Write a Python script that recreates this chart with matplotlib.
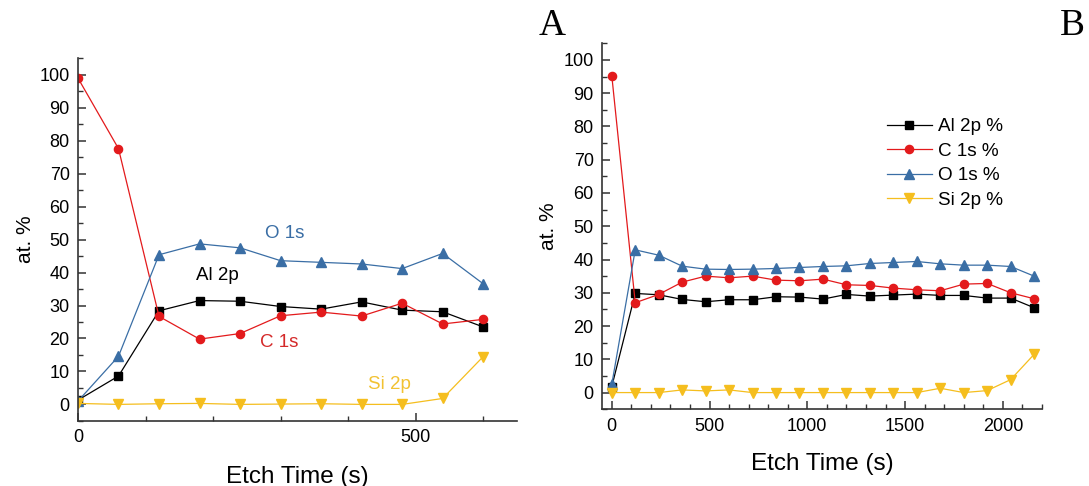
import numpy as np
import matplotlib
matplotlib.use("Agg")
import matplotlib.pyplot as plt
from matplotlib.ticker import MultipleLocator, FixedLocator

plt.rcParams['font.family'] = ['Liberation Sans', 'DejaVu Sans']

# panel A: etch time every 60 s
time_a = [0, 60, 120, 180, 240, 300, 360, 420, 480, 540, 600]
al_a = [1.3, 8.6, 28.4, 31.5, 31.3, 29.7, 28.9, 31.1, 28.6, 28.1, 23.5]
c_a = [99.0, 77.6, 26.7, 19.8, 21.5, 26.9, 28.0, 26.8, 30.7, 24.4, 25.8]
o_a = [1.0, 14.6, 45.4, 48.7, 47.5, 43.6, 43.1, 42.6, 41.2, 45.8, 36.6]
si_a = [0.3, 0.0, 0.2, 0.3, 0.0, 0.1, 0.2, 0.0, 0.0, 1.8, 14.5]

# panel B: etch time every 120 s
time_b = [0, 120, 240, 360, 480, 600, 720, 840, 960, 1080, 1200, 1320,
          1440, 1560, 1680, 1800, 1920, 2040, 2160]
al_b = [1.8, 29.8, 29.4, 28.0, 27.3, 27.9, 27.9, 28.8, 28.7, 28.1, 29.5,
        29.0, 29.3, 29.6, 29.2, 29.2, 28.4, 28.4, 25.5]
c_b = [95.3, 27.0, 29.5, 33.2, 35.0, 34.5, 35.0, 33.8, 33.6, 34.1, 32.4,
       32.2, 31.4, 30.9, 30.6, 32.6, 32.8, 30.0, 28.2]
o_b = [2.5, 42.9, 41.3, 38.0, 37.1, 37.0, 37.1, 37.3, 37.6, 37.9, 38.1,
       38.8, 39.1, 39.4, 38.7, 38.3, 38.3, 37.9, 35.0]
si_b = [0.0, 0.0, 0.0, 0.8, 0.5, 0.8, 0.0, 0.0, 0.0, 0.0, 0.0, 0.0,
        0.0, 0.0, 1.3, 0.0, 0.6, 3.9, 11.5]

names = ['Al 2p', 'C 1s', 'O 1s', 'Si 2p']
colors = ['black', '#e31a1c', '#3a6ea5', '#f5be1e']
markers = ['s', 'o', '^', 'v']
msizes = [5.3, 5.9, 6.6, 6.6]

fig = plt.figure(figsize=(10.89, 4.86), dpi=100)
ax1 = fig.add_axes([0.0716, 0.134, 0.4031, 0.746])
ax2 = fig.add_axes([0.5528, 0.158, 0.404, 0.753])


def style_axis(ax):
    for s in ['top', 'right']:
        ax.spines[s].set_visible(False)
    for s in ['left', 'bottom']:
        ax.spines[s].set_linewidth(1.2)
        ax.spines[s].set_color('#333333')
    ax.set_ylim(-5, 105)
    ax.yaxis.set_major_locator(MultipleLocator(10))
    ax.yaxis.set_minor_locator(MultipleLocator(5))
    ax.tick_params(which='both', direction='in', labelsize=13, pad=6, color='#333333')
    ax.tick_params(which='major', length=6, width=1.1)
    ax.tick_params(which='minor', length=3.5, width=1.0)
    ax.set_xlabel('Etch Time (s)', fontsize=17.5)
    ax.set_ylabel('at. %', fontsize=15)


series_a = [al_a, c_a, o_a, si_a]
for y, col, m, ms in zip(series_a, colors, markers, msizes):
    ax1.plot(time_a, y, color=col, marker=m, markersize=ms, linewidth=0.9)
style_axis(ax1)
ax1.set_xlim(0, 650)
ax1.xaxis.set_major_locator(FixedLocator([0, 500]))
ax1.xaxis.set_minor_locator(MultipleLocator(100))
ax1.xaxis.labelpad = 14
ax1.yaxis.labelpad = 3

ax1.text(306, 51.8, 'O 1s', color='#3a6ea5', fontsize=13.5, ha='center', va='center')
ax1.text(207, 39.1, 'Al 2p', color='black', fontsize=13.5, ha='center', va='center')
ax1.text(298, 18.8, 'C 1s', color='#d42a2a', fontsize=13.5, ha='center', va='center')
ax1.text(461, 5.9, 'Si 2p', color='#f2c232', fontsize=13.5, ha='center', va='center')

series_b = [al_b, c_b, o_b, si_b]
for y, col, m, ms, n in zip(series_b, colors, markers, msizes, names):
    ax2.plot(time_b, y, color=col, marker=m, markersize=ms, linewidth=0.9,
             label=n + ' %')
style_axis(ax2)
ax2.set_xlim(-50, 2200)
ax2.xaxis.set_major_locator(MultipleLocator(500))
ax2.xaxis.set_minor_locator(MultipleLocator(100))
ax2.xaxis.labelpad = 13
ax2.yaxis.labelpad = 4

ax2.legend(loc='upper left', bbox_to_anchor=(0.8142, 0.757),
           bbox_transform=fig.transFigure, frameon=False, fontsize=13.6,
           handlelength=2.4, handletextpad=0.3, labelspacing=0.38,
           borderpad=0, borderaxespad=0)

fig.text(551.7 / 1089, 1 - 26 / 486, 'A', fontsize=27, ha='center', va='center',
         family=['Liberation Serif', 'DejaVu Serif'])
fig.text(1072.7 / 1089, 1 - 26 / 486, 'B', fontsize=27, ha='center', va='center',
         family=['Liberation Serif', 'DejaVu Serif'])

fig.savefig('out.png', dpi=100)
